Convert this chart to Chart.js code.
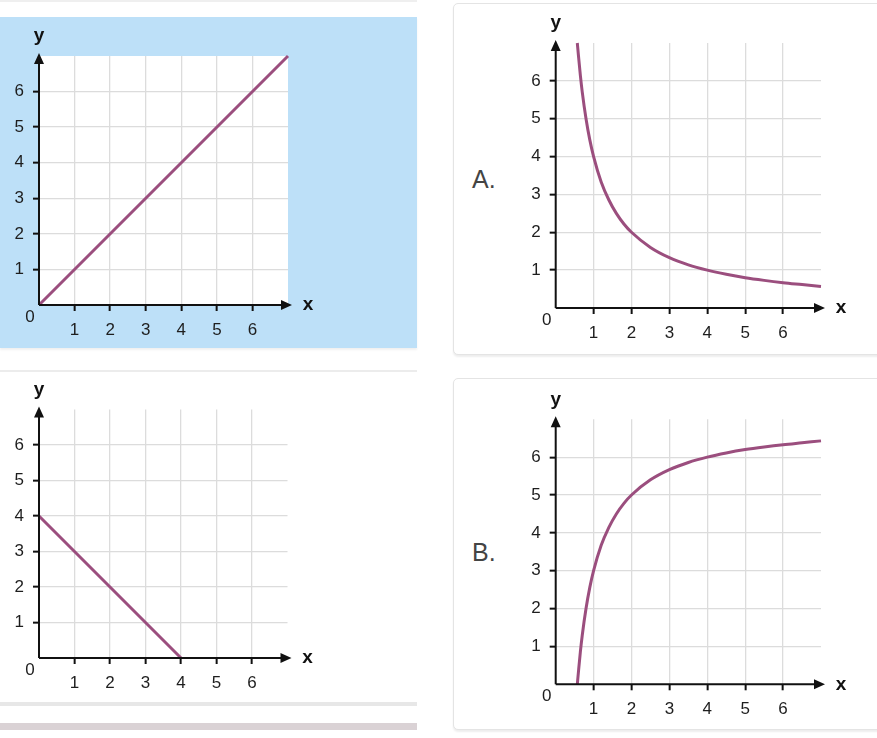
<!DOCTYPE html>
<html>
<head>
<meta charset="utf-8">
<script src="https://cdn.jsdelivr.net/npm/chart.js@4.4.0/dist/chart.umd.min.js"></script>
<style>
  html, body { margin: 0; padding: 0; background: #fff; width: 877px; height: 738px; overflow: hidden; }
  .abs { position: absolute; }
  .card { position: absolute; border: 1.5px solid #e4e4e4; border-radius: 5px; background: #fff; box-shadow: 0 2px 2px rgba(0,0,0,0.07); }
  .letter { position: absolute; font-family: "Liberation Sans", Arial, sans-serif; font-size: 25px; color: #444; line-height: 1; }
</style>
</head>
<body>
<div class="abs" style="left:0;top:0;width:417px;height:2px;background:#efefef"></div>
<div class="abs" style="left:0;top:17px;width:417px;height:331px;background:#bde0f8;box-shadow:0 2px 2px rgba(0,0,0,0.06)"></div>
<div class="abs" style="left:0;top:370px;width:417px;height:2px;background:#ececec"></div>
<div class="abs" style="left:0;top:702px;width:417px;height:4px;background:#e7e7e7"></div>
<div class="abs" style="left:0;top:723px;width:417px;height:7px;background:#dad2d5"></div>
<div class="card" style="left:453px;top:3px;width:440px;height:350px"></div>
<div class="card" style="left:453px;top:378px;width:440px;height:350px"></div>
<div class="letter" style="left:472px;top:167px">A.</div>
<div class="letter" style="left:472px;top:540px">B.</div>

<canvas id="straightUp" class="abs" style="left:0;top:17px" width="417" height="331"></canvas>
<canvas id="curveA" class="abs" style="left:454px;top:4px" width="423" height="350"></canvas>
<canvas id="straightDown" class="abs" style="left:0;top:372px" width="417" height="330"></canvas>
<canvas id="curveB" class="abs" style="left:454px;top:379px" width="423" height="350"></canvas>

<script>
// values
var upX = [0, 7];
var upY = [0, 7];
var downX = [0, 4];
var downY = [4, 0];
var curveAX = [0.57, 0.6, 0.65, 0.7, 0.8, 0.9, 1, 1.2, 1.4, 1.6, 1.8, 2, 2.5, 3, 3.5, 4, 4.5, 5, 5.5, 6, 6.5, 7];
var curveAY = [7, 6.67, 6.15, 5.71, 5, 4.44, 4, 3.33, 2.86, 2.5, 2.22, 2, 1.6, 1.33, 1.14, 1, 0.89, 0.8, 0.73, 0.67, 0.62, 0.57];
var curveBX = [0.57, 0.6, 0.65, 0.7, 0.8, 0.9, 1, 1.2, 1.4, 1.6, 1.8, 2, 2.5, 3, 3.5, 4, 4.5, 5, 5.5, 6, 6.5, 7];
var curveBY = [0, 0.33, 0.85, 1.29, 2, 2.56, 3, 3.67, 4.14, 4.5, 4.78, 5, 5.4, 5.67, 5.86, 6, 6.11, 6.2, 6.27, 6.33, 6.38, 6.43];
var axisMax = 7;

var lineColor = '#9b4e7e';
var gridColor = '#dcdcdc';
var textColor = '#1e1e1e';
var fontFamily = '"Liberation Sans", Arial, sans-serif';

function toPoints(xs, ys) {
  return xs.map(function (x, i) { return { x: x, y: ys[i] }; });
}

// white plot area, then arrows, axis names and the corner 0
var axesPlugin = {
  id: 'axes',
  beforeDraw: function (chart) {
    var a = chart.chartArea, c = chart.ctx;
    c.save();
    c.fillStyle = '#fff';
    c.fillRect(a.left, a.top, a.right - a.left, a.bottom - a.top);
    c.restore();
  },
  afterDraw: function (chart) {
    var c = chart.ctx;
    var xs = chart.scales.x, ys = chart.scales.y;
    var x0 = xs.getPixelForValue(0), y0 = ys.getPixelForValue(0);
    var xe = xs.getPixelForValue(axisMax) + 4, ye = ys.getPixelForValue(axisMax) - 3;
    c.save();
    c.strokeStyle = '#111';
    c.fillStyle = '#111';
    c.lineWidth = 2;
    c.beginPath();
    c.moveTo(x0, y0); c.lineTo(xe - 8, y0);
    c.moveTo(x0, y0); c.lineTo(x0, ye + 8);
    c.stroke();
    c.beginPath();
    c.moveTo(xe, y0); c.lineTo(xe - 11, y0 - 5); c.lineTo(xe - 11, y0 + 5); c.closePath();
    c.moveTo(x0, ye); c.lineTo(x0 - 5, ye + 11); c.lineTo(x0 + 5, ye + 11); c.closePath();
    c.fill();
    c.font = 'bold 19px ' + fontFamily;
    c.textAlign = 'center';
    c.textBaseline = 'middle';
    c.fillText('x', xe + 16, y0);
    c.fillText('y', x0, ye - 17);
    c.font = '17px ' + fontFamily;
    c.fillStyle = textColor;
    c.fillText('0', x0 - 9, y0 + 12);
    c.restore();
  }
};

function makeChart(id, xs, ys, area) {
  var canvas = document.getElementById(id);
  var w = canvas.width, h = canvas.height;
  var yw = 30, xh = 30;
  var inner = function (ctx) { return ctx.tick && ctx.tick.value > 0 && ctx.tick.value < axisMax; };
  return new Chart(canvas.getContext('2d'), {
    type: 'scatter',
    data: {
      datasets: [{
        data: toPoints(xs, ys),
        showLine: true,
        borderColor: lineColor,
        borderWidth: 3,
        pointRadius: 0,
        cubicInterpolationMode: 'monotone',
        clip: false
      }]
    },
    options: {
      responsive: false,
      animation: false,
      events: [],
      layout: {
        padding: {
          left: area.left - yw,
          top: area.top,
          right: w - area.right,
          bottom: h - area.bottom - xh
        }
      },
      plugins: { legend: { display: false }, tooltip: { enabled: false } },
      scales: {
        x: {
          type: 'linear', min: 0, max: axisMax,
          afterFit: function (s) { s.height = xh; },
          border: { display: false },
          grid: {
            color: function (ctx) { return inner(ctx) ? gridColor : 'rgba(0,0,0,0)'; },
            tickColor: function (ctx) { return inner(ctx) ? '#111' : 'rgba(0,0,0,0)'; },
            tickLength: 6, tickWidth: 2, lineWidth: 1.3
          },
          ticks: {
            stepSize: 1, autoSkip: false, maxRotation: 0, padding: 9,
            color: textColor, font: { family: fontFamily, size: 17 },
            callback: function (v) { return v > 0 && v < axisMax ? v : ''; }
          }
        },
        y: {
          type: 'linear', min: 0, max: axisMax,
          afterFit: function (s) { s.width = yw; },
          border: { display: false },
          grid: {
            color: function (ctx) { return inner(ctx) ? gridColor : 'rgba(0,0,0,0)'; },
            tickColor: function (ctx) { return inner(ctx) ? '#111' : 'rgba(0,0,0,0)'; },
            tickLength: 6, tickWidth: 2, lineWidth: 1.3
          },
          ticks: {
            stepSize: 1, autoSkip: false, padding: 9,
            color: textColor, font: { family: fontFamily, size: 17 },
            callback: function (v) { return v > 0 && v < axisMax ? v : ''; }
          }
        }
      }
    },
    plugins: [axesPlugin]
  });
}

var upChart = makeChart('straightUp', upX, upY, { left: 39, top: 39, right: 288, bottom: 288 });
var aChart = makeChart('curveA', curveAX, curveAY, { left: 101.7, top: 39, right: 367, bottom: 304 });
var downChart = makeChart('straightDown', downX, downY, { left: 39, top: 37.5, right: 287.5, bottom: 286 });
var bChart = makeChart('curveB', curveBX, curveBY, { left: 101.7, top: 40.3, right: 367, bottom: 305.3 });
</script>
</body>
</html>
